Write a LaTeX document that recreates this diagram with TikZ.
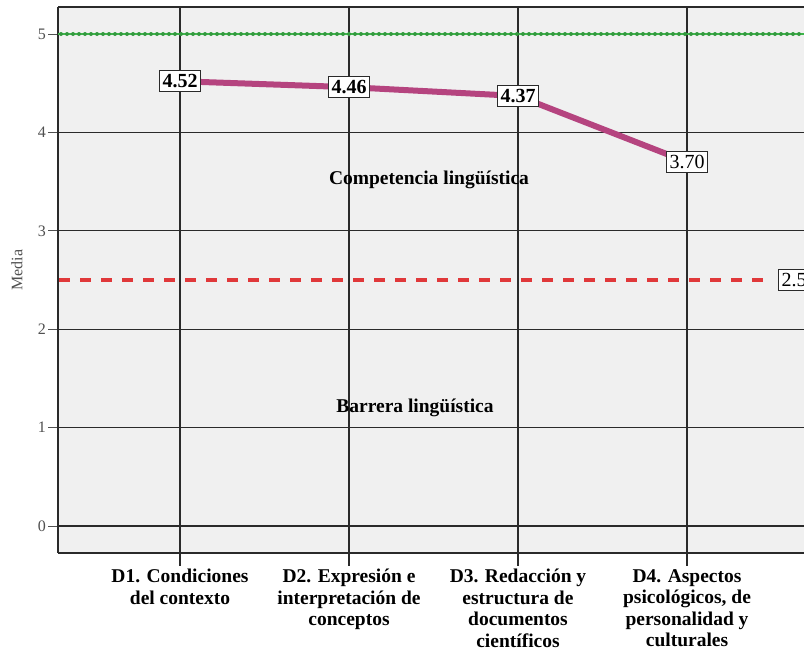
\documentclass[tikz,border=0pt]{standalone}
\usepackage{fontspec}
\setmainfont{Liberation Serif}
\definecolor{plotbg}{HTML}{F0F0F0}
\definecolor{gridc}{HTML}{2A2A2A}
\definecolor{linec}{HTML}{B5447F}
\definecolor{greenc}{HTML}{3DB54A}
\definecolor{redc}{HTML}{E0383A}
\definecolor{tickc}{HTML}{505050}
\begin{document}
\begin{tikzpicture}[x=1pt,y=-1pt,
  valbox/.style={draw=gridc,fill=white,line width=1pt,inner xsep=3pt,inner ysep=3.5pt,font=\bfseries\fontsize{20}{20}\selectfont},
  catlab/.style={align=center,font=\bfseries\fontsize{19.5}{21.5}\selectfont,anchor=north,inner sep=1pt},
  ticklab/.style={anchor=east,text=tickc,font=\fontsize{16}{16}\selectfont,inner sep=1pt},
  gridline/.style={draw=gridc,line width=1.2pt},
  inlab/.style={font=\bfseries\fontsize{19.5}{19.5}\selectfont}]
\useasboundingbox (0,0) rectangle (804,654);
\fill[white] (0,0) rectangle (804,654);
% plot area
\fill[plotbg] (58,7) rectangle (870,553);
% horizontal grid
\foreach \v in {0,1,2,3,4,5}{
  \draw[gridline] (58,{526-98.4*\v}) -- (870,{526-98.4*\v});
  \draw[draw=tickc,line width=1pt] (48,{526-98.4*\v}) -- (58,{526-98.4*\v});
  \node[ticklab] at (47,{526-98.4*\v}) {\v};
}
% vertical grid
\foreach \x in {180,349,518,687}{
  \draw[gridline] (\x,7) -- (\x,553);
  \draw[gridline] (\x,553) -- (\x,566);
}
% frame
\draw[gridline] (58,7) -- (870,7);
\draw[gridline] (58,553) -- (870,553);
\draw[gridline] (58,7) -- (58,553);
% reference lines
\draw[greenc,line width=1.5pt] (58,34) -- (804,34);
\draw[greenc!85!black,line width=4pt,line cap=round,dash pattern=on 0pt off 6pt] (61,34) -- (804,34);
\draw[redc,line width=4pt,dash pattern=on 11pt off 10pt] (59,280) -- (770,280);
\node[valbox,anchor=west,font=\fontsize{20}{20}\selectfont] (v25) at (778,280) {2.5};
% inner texts
\node[inlab] (comp) at (429,180) {Competencia lingüística};
\node[inlab] (barr) at (415,408) {Barrera lingüística};
% y label
\node[rotate=90,font=\fontsize{16}{16}\selectfont,text=tickc] (ylab) at (17,270) {Media};
% data
\coordinate (p1) at (180,{526-98.4*4.52});
\coordinate (p2) at (349,{526-98.4*4.46});
\coordinate (p3) at (518,{526-98.4*4.37});
\coordinate (p4) at (687,{526-98.4*3.70});
\draw[linec,line width=6pt,line join=round] (p1) -- (p2) -- (p3) -- (p4);
\node[valbox] (l1) at (p1) {4.52};
\node[valbox] (l2) at (p2) {4.46};
\node[valbox] (l3) at (p3) {4.37};
\node[valbox,font=\fontsize{20}{20}\selectfont] (l4) at (p4) {3.70};
% category labels
\node[catlab] (c1) at (180,568) {D1. Condiciones\\del contexto};
\node[catlab] (c2) at (349,568) {D2. Expresión e\\interpretación de\\conceptos};
\node[catlab] (c3) at (518,568) {D3. Redacción y\\estructura de\\documentos\\científicos};
\node[catlab] (c4) at (687,568) {D4. Aspectos\\psicológicos, de\\personalidad y\\culturales};
\end{tikzpicture}
\end{document}
